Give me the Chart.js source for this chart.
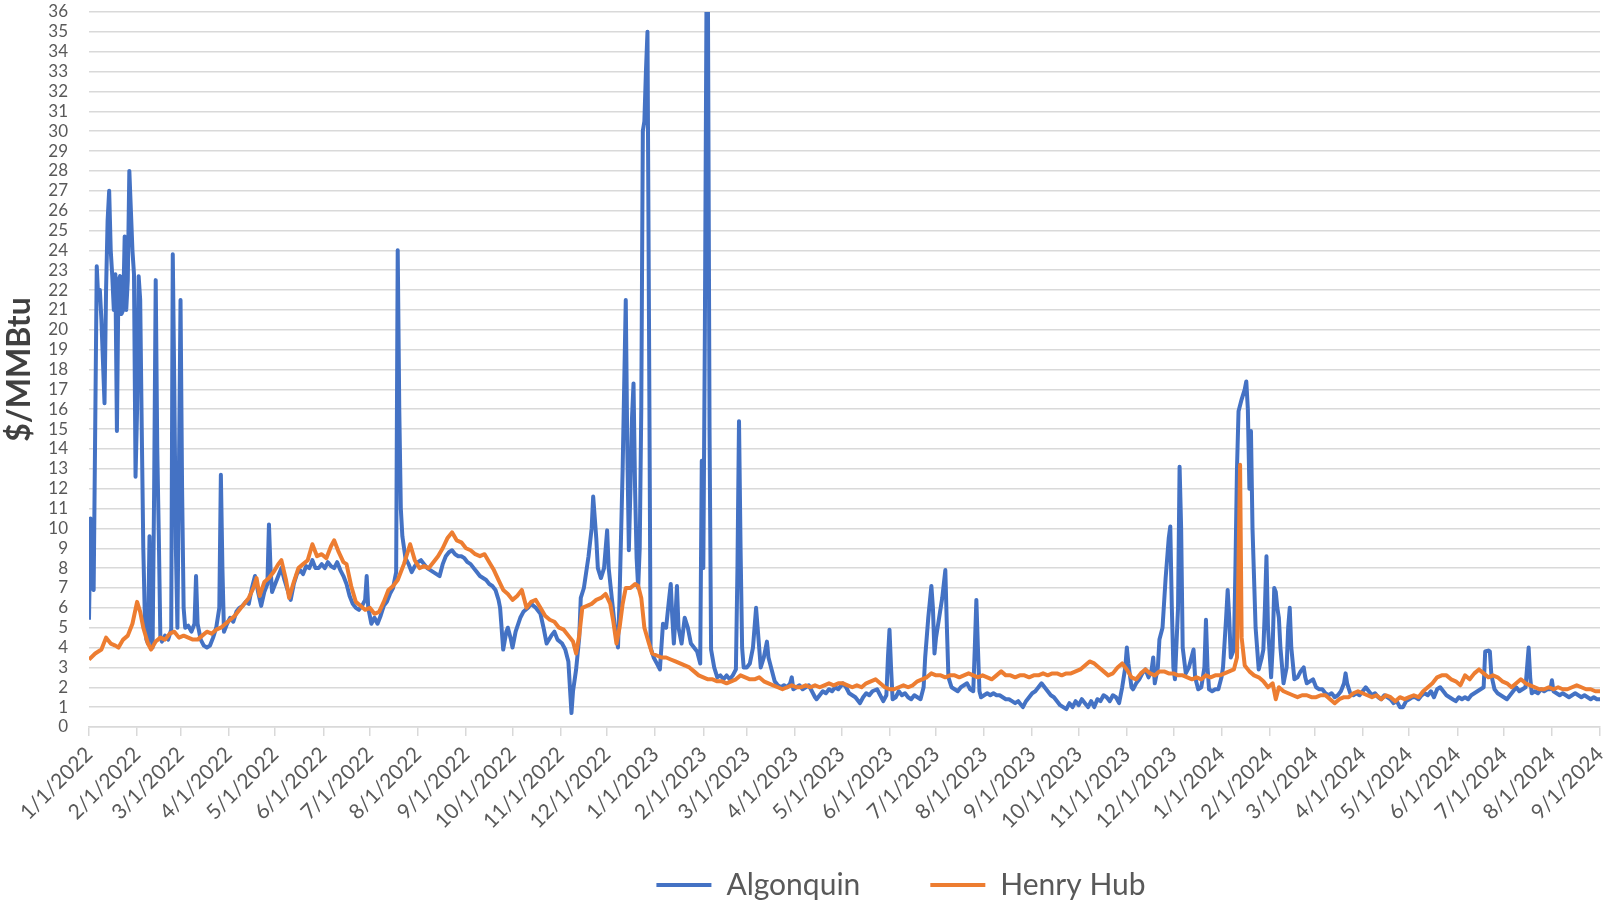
<!DOCTYPE html>
<html>
<head>
<meta charset="utf-8">
<script src="https://cdn.jsdelivr.net/npm/chart.js@4.4.1/dist/chart.umd.min.js"></script>
<style>
html,body{margin:0;padding:0;background:#ffffff;}
#wrap{width:1605px;height:904px;}
</style>
</head>
<body>
<div id="wrap"><canvas id="c" width="1605" height="904"></canvas></div>
<script>
// ---------- DATA ----------
const tickLabels = ['1/1/2022','2/1/2022','3/1/2022','4/1/2022','5/1/2022','6/1/2022','7/1/2022','8/1/2022','9/1/2022','10/1/2022','11/1/2022','12/1/2022',
  '1/1/2023','2/1/2023','3/1/2023','4/1/2023','5/1/2023','6/1/2023','7/1/2023','8/1/2023','9/1/2023','10/1/2023','11/1/2023','12/1/2023',
  '1/1/2024','2/1/2024','3/1/2024','4/1/2024','5/1/2024','6/1/2024','7/1/2024','8/1/2024','9/1/2024'];
const seriesNames = ['Algonquin', 'Henry Hub'];
const yAxisTitle = '$/MMBtu';

// days since 1/1/2022
const algonquinDays = [
  0,1,2,3,5,6,7,8,10,11,
  12,13,14,15,16,17,18,19,20,21,
  22,23,24,25,26,27,28,29,30,31,
  32,33,34,35,36,37,38,39,40,41,
  42,43,44,45,46,47,49,51,53,54,
  55,56,57,58,59,60,61,62,64,66,
  68,69,70,72,74,76,78,80,82,84,
  85,86,87,89,91,93,95,97,99,101,
  103,105,107,109,111,113,115,116,117,118,
  120,122,124,126,128,130,132,134,136,138,
  140,142,144,146,148,150,152,154,156,158,
  160,162,164,166,168,170,172,174,176,178,
  179,180,182,184,186,188,190,192,194,196,
  198,199,200,201,202,204,206,208,210,212,
  214,216,218,220,222,224,226,228,230,232,
  234,236,238,240,242,244,246,248,250,252,
  254,256,258,260,262,264,265,267,269,270,
  272,273,275,278,280,283,285,288,291,293,
  295,298,300,302,305,307,309,310,311,312,
  314,316,317,319,322,324,325,327,328,330,
  332,334,335,337,339,341,342,344,346,347,
  348,349,350,351,352,353,354,355,356,357,
  358,359,360,361,362,364,366,368,370,372,
  374,375,376,377,378,379,380,382,384,386,
  388,390,392,394,395,396,397,398,399,400,
  401,403,405,407,409,411,413,415,417,418,
  419,420,421,422,424,426,428,430,431,433,
  435,437,438,440,442,444,446,448,450,452,
  453,454,456,458,460,462,464,466,468,469,
  471,473,475,477,479,481,483,486,488,490,
  492,494,496,497,499,501,503,505,508,510,
  512,514,515,516,517,518,520,522,524,526,
  528,530,532,534,536,538,539,541,543,544,
  545,546,548,550,552,553,554,556,558,560,
  562,564,566,568,570,571,572,573,574,575,
  577,579,581,583,585,587,589,591,593,595,
  597,599,602,604,606,608,610,612,614,616,
  618,620,622,624,626,628,630,632,634,636,
  638,640,642,644,646,648,650,652,654,656,
  658,660,662,664,666,668,669,670,672,673,
  675,677,679,681,683,685,686,687,689,690,
  692,694,696,697,698,699,700,702,703,704,
  705,707,709,711,712,713,715,717,719,720,
  721,722,724,726,728,730,731,733,734,735,
  736,738,739,740,741,743,745,746,747,748,
  749,750,752,754,756,757,758,759,760,762,
  763,764,765,766,767,768,770,772,773,774,
  775,777,779,781,783,784,785,787,789,791,
  793,795,797,799,801,803,805,807,809,810,
  811,813,815,817,819,821,823,825,827,829,
  831,833,835,837,839,841,843,845,847,849,
  851,853,855,857,859,861,863,865,867,869,
  871,873,875,877,879,881,883,885,887,889,
  891,893,895,897,899,900,902,903,904,906,
  908,910,912,914,916,918,920,922,924,926,
  927,928,929,930,932,934,936,938,940,942,
  943,944,946,948,950,952,954,956,958,960,
  962,964,966,968,970,972,974
];
const algonquinPrices = [
  5.4,10.5,7.0,6.9,23.2,21.5,22.0,20.5,16.3,22.0,
  25.5,27.0,24.0,22.7,21.0,22.8,14.9,22.5,22.7,20.8,
  21.0,24.7,21.0,22.5,28.0,26.0,24.0,22.8,12.6,16.0,
  22.7,21.5,15.0,9.0,5.5,4.4,4.2,9.6,4.8,4.0,
  12.0,22.5,14.0,9.6,4.5,4.3,4.6,4.4,4.9,23.8,
  17.0,9.0,5.0,13.0,21.5,12.0,6.0,5.0,5.1,4.8,
  5.2,7.6,5.2,4.4,4.1,4.0,4.1,4.5,5.0,6.0,
  12.7,8.0,4.8,5.2,5.5,5.3,5.8,6.0,6.1,6.3,
  6.2,7.0,7.6,6.8,6.1,6.8,7.2,10.2,8.0,6.8,
  7.2,7.6,8.0,7.4,6.9,6.4,7.2,7.7,7.9,7.7,
  8.1,8.0,8.4,8.0,8.0,8.2,8.0,8.3,8.1,8.0,
  8.3,7.9,7.6,7.2,6.6,6.2,6.0,5.9,6.1,6.4,
  7.6,6.0,5.2,5.5,5.2,5.6,6.1,6.3,6.7,7.0,
  7.8,24.0,16.0,11.0,9.6,8.5,8.2,7.8,8.1,8.3,
  8.4,8.2,8.0,7.9,7.8,7.7,7.6,8.2,8.6,8.8,
  8.9,8.7,8.6,8.6,8.5,8.3,8.2,8.0,7.8,7.6,
  7.5,7.4,7.2,7.1,6.9,6.4,6.0,3.9,4.8,5.0,
  4.4,4.0,4.8,5.5,5.8,6.0,6.2,6.0,5.7,5.0,
  4.2,4.6,4.8,4.4,4.2,3.9,3.3,2.0,0.7,1.8,
  2.9,4.5,6.5,7.0,8.6,10.0,11.6,9.5,8.0,7.5,
  8.0,9.9,8.0,6.5,5.0,4.0,6.5,13.0,21.5,14.0,
  8.9,12.0,15.5,17.3,12.0,8.5,7.0,9.0,16.0,30.0,
  30.5,33.0,35.0,20.0,4.0,3.5,3.2,2.9,5.2,5.0,
  6.5,7.2,5.5,4.2,5.5,7.1,5.0,4.2,5.5,5.0,
  4.2,4.0,3.8,3.2,13.4,8.0,20.0,36.0,36.0,15.0,
  3.9,3.0,2.5,2.6,2.4,2.6,2.4,2.6,2.9,8.0,
  15.4,9.0,4.0,3.0,3.0,3.2,4.0,6.0,5.0,3.0,
  3.5,4.3,3.5,2.9,2.3,2.1,2.0,2.1,2.0,2.2,
  2.5,1.9,2.0,2.1,1.9,2.0,2.1,1.8,1.5,1.4,
  1.6,1.8,1.7,1.9,1.8,2.0,1.9,2.2,2.0,1.7,
  1.6,1.5,1.3,1.2,1.5,1.7,1.6,1.8,1.9,1.6,
  1.3,1.6,3.5,4.9,3.0,1.4,1.5,1.8,1.6,1.7,
  1.5,1.4,1.6,1.5,1.4,2.0,3.5,5.5,7.1,6.0,
  3.7,4.5,5.5,6.5,7.9,5.0,2.5,2.0,1.9,1.8,
  2.0,2.1,2.2,1.9,1.8,4.0,6.4,4.0,1.8,1.5,
  1.6,1.7,1.6,1.7,1.6,1.6,1.5,1.4,1.4,1.3,
  1.2,1.3,1.0,1.3,1.5,1.7,1.8,2.0,2.2,2.0,
  1.8,1.6,1.5,1.3,1.1,1.0,0.9,1.2,1.0,1.3,
  1.1,1.4,1.2,1.0,1.3,1.0,1.4,1.3,1.6,1.5,
  1.3,1.6,1.5,1.2,2.0,3.0,4.0,3.2,2.0,1.9,
  2.2,2.4,2.7,2.9,2.5,2.9,3.5,2.2,3.0,4.4,
  5.0,7.5,9.5,10.1,6.0,3.0,2.4,6.0,13.1,10.0,
  4.0,2.7,3.0,3.6,3.9,2.5,1.9,2.0,3.0,5.4,
  3.0,1.9,1.8,1.9,1.9,2.5,3.0,5.5,6.9,5.5,
  3.5,3.9,8.0,13.0,15.9,16.5,17.0,17.4,16.0,12.0,
  14.9,10.0,5.0,2.9,3.5,3.9,6.0,8.6,5.0,2.5,
  4.0,7.0,6.8,6.0,5.5,4.0,2.2,3.0,5.0,6.0,
  4.0,2.4,2.5,2.8,3.0,2.5,2.2,2.3,2.4,2.0,
  1.9,1.9,1.7,1.6,1.7,1.5,1.6,1.8,2.2,2.7,
  2.2,1.7,1.6,1.7,1.6,1.8,2.0,1.8,1.6,1.7,
  1.5,1.4,1.6,1.5,1.4,1.2,1.3,1.0,1.0,1.3,
  1.4,1.5,1.5,1.4,1.6,1.7,1.6,1.8,1.5,1.9,
  2.0,1.8,1.6,1.5,1.4,1.3,1.5,1.4,1.5,1.4,
  1.6,1.7,1.8,1.9,2.0,3.8,3.85,3.8,2.6,1.9,
  1.7,1.6,1.5,1.4,1.6,1.8,2.0,1.8,1.9,2.0,
  3.0,4.0,2.5,1.7,1.8,1.7,1.9,1.8,1.9,1.9,
  2.35,1.8,1.7,1.6,1.7,1.6,1.5,1.6,1.7,1.6,
  1.5,1.6,1.5,1.4,1.5,1.4,1.4
];

const henryHubDays = [
  0,4,8,11,14,17,19,22,25,28,
  31,33,35,38,40,43,46,49,52,55,
  58,61,64,67,70,73,76,79,82,85,
  88,91,94,97,100,103,106,108,110,113,
  116,119,122,124,127,129,132,135,138,141,
  144,147,150,153,156,158,161,164,166,169,
  172,175,178,181,184,187,190,193,196,199,
  203,207,210,213,216,219,222,225,228,231,
  234,237,240,243,246,249,252,255,258,261,
  264,267,270,273,276,279,282,285,288,291,
  294,297,300,303,306,309,312,314,316,318,
  321,324,327,330,333,336,338,340,342,344,
  346,349,352,354,356,358,361,363,366,369,
  372,375,378,381,384,387,390,393,396,399,
  402,405,408,411,414,417,420,423,426,429,
  432,435,438,441,444,447,450,453,456,459,
  462,465,468,471,474,477,480,483,486,489,
  492,495,498,501,504,507,510,513,516,519,
  522,525,528,531,534,537,540,543,546,549,
  552,555,558,561,564,567,570,573,576,579,
  582,585,588,591,594,597,600,603,606,609,
  612,615,618,621,624,627,630,633,636,639,
  642,645,648,651,654,657,660,663,666,669,
  672,675,678,681,684,687,690,693,696,699,
  702,705,708,711,714,717,720,723,726,729,
  732,735,738,740,742,743,745,748,751,754,
  757,760,763,765,767,770,773,776,779,782,
  785,788,791,794,797,800,803,806,809,812,
  815,818,821,824,827,830,833,836,839,842,
  845,848,851,854,857,860,863,866,869,872,
  875,878,881,884,887,890,893,896,899,902,
  905,908,911,914,917,920,923,926,929,932,
  935,938,941,944,947,950,953,956,959,962,
  965,968,971,974
];
const henryHubPrices = [
  3.4,3.7,3.9,4.5,4.2,4.1,4.0,4.4,4.6,5.2,
  6.3,5.8,5.0,4.2,3.9,4.3,4.5,4.4,4.7,4.8,
  4.5,4.6,4.5,4.4,4.4,4.6,4.8,4.7,4.9,5.0,
  5.2,5.4,5.6,5.9,6.2,6.5,7.0,7.5,6.6,7.3,
  7.5,7.8,8.2,8.4,7.4,6.5,7.3,8.0,8.2,8.4,
  9.2,8.6,8.7,8.5,9.1,9.4,8.8,8.3,8.2,7.1,
  6.3,6.1,5.9,6.0,5.7,5.8,6.3,6.9,7.1,7.4,
  8.2,9.2,8.4,8.0,8.1,8.0,8.3,8.6,9.0,9.5,
  9.8,9.4,9.3,9.0,8.9,8.7,8.6,8.7,8.3,7.9,
  7.4,6.9,6.7,6.4,6.6,6.9,6.0,6.3,6.4,6.0,
  5.6,5.4,5.3,5.0,4.9,4.6,4.3,3.7,4.6,6.0,
  6.1,6.2,6.4,6.5,6.7,6.2,5.3,4.2,5.0,6.2,
  7.0,7.0,7.2,7.1,6.5,5.0,4.2,3.7,3.6,3.5,
  3.5,3.4,3.3,3.2,3.1,3.0,2.8,2.6,2.5,2.4,
  2.4,2.3,2.3,2.2,2.3,2.4,2.6,2.5,2.4,2.4,
  2.5,2.3,2.2,2.1,2.0,1.9,2.0,2.1,2.0,2.0,
  2.1,2.0,2.1,2.0,2.1,2.2,2.1,2.2,2.2,2.1,
  2.0,2.1,2.0,2.2,2.3,2.4,2.2,2.0,1.9,1.9,
  2.0,2.1,2.0,2.1,2.3,2.4,2.5,2.7,2.6,2.6,
  2.5,2.6,2.6,2.5,2.6,2.7,2.6,2.5,2.6,2.5,
  2.4,2.6,2.8,2.6,2.6,2.5,2.6,2.6,2.5,2.6,
  2.6,2.7,2.6,2.7,2.7,2.6,2.7,2.7,2.8,2.9,
  3.1,3.3,3.2,3.0,2.8,2.6,2.7,3.0,3.2,2.9,
  2.5,2.4,2.7,2.9,2.7,2.6,2.8,2.8,2.7,2.7,
  2.6,2.6,2.5,2.4,2.5,2.4,2.6,2.5,2.6,2.6,
  2.7,2.8,2.9,3.5,13.2,4.5,3.1,2.8,2.6,2.5,
  2.3,2.0,2.2,1.4,2.0,1.8,1.7,1.6,1.5,1.6,
  1.6,1.5,1.5,1.6,1.6,1.4,1.2,1.4,1.5,1.5,
  1.7,1.8,1.7,1.6,1.5,1.6,1.4,1.6,1.5,1.3,
  1.5,1.4,1.5,1.6,1.5,1.8,2.0,2.2,2.5,2.6,
  2.6,2.4,2.3,2.1,2.6,2.4,2.7,2.9,2.7,2.5,
  2.6,2.5,2.3,2.2,2.0,2.2,2.4,2.2,2.1,2.0,
  1.9,1.9,2.0,1.9,2.0,1.9,1.9,2.0,2.1,2.0,
  1.9,1.9,1.8,1.8
];

// ---------- BUILD ----------
const startUTC = Date.UTC(2022, 0, 1);
function dayIndex(label) {
  const p = label.split('/').map(Number);
  return Math.round((Date.UTC(p[2], p[0] - 1, p[1]) - startUTC) / 86400000);
}
const tickDays = tickLabels.map(dayIndex);
function toPoints(days, vals) {
  const n = Math.min(days.length, vals.length);
  const out = [];
  for (let i = 0; i < n; i++) out.push({ x: days[i], y: vals[i] });
  return out;
}

const FONT = 'Lato, "Open Sans", sans-serif';
const LEGEND_SHIFT_X = 101;
const LEGEND_SHIFT_Y = 6;

function build() {
  const ctx = document.getElementById('c').getContext('2d');
  new Chart(ctx, {
    type: 'line',
    data: {
      datasets: [
        { label: seriesNames[0], data: toPoints(algonquinDays, algonquinPrices),
          borderColor: '#4472C4', backgroundColor: '#4472C4', borderWidth: 4,
          pointRadius: 0, pointHoverRadius: 0, tension: 0, order: 1, borderJoinStyle: 'round' },
        { label: seriesNames[1], data: toPoints(henryHubDays, henryHubPrices),
          borderColor: '#ED7D31', backgroundColor: '#ED7D31', borderWidth: 4,
          pointRadius: 0, pointHoverRadius: 0, tension: 0, order: 0, borderJoinStyle: 'round' }
      ]
    },
    options: {
      responsive: false,
      animation: false,
      devicePixelRatio: 1,
      layout: { padding: { left: 0, right: 5, top: 12, bottom: 0 }, autoPadding: false },
      scales: {
        x: {
          type: 'linear',
          min: tickDays[0],
          max: tickDays[tickDays.length - 1],
          afterBuildTicks: (s) => { s.ticks = tickDays.map(v => ({ value: v })); },
          afterFit: (s) => { s.height = 67; s.paddingLeft = 0; s.paddingRight = 0; s.paddingTop = 0; s.paddingBottom = 0; },
          ticks: {
            autoSkip: false, maxRotation: 45, minRotation: 45, padding: 6,
            color: '#595959', font: { family: FONT, size: 21 },
            callback: (v, i) => tickLabels[i]
          },
          grid: { drawOnChartArea: false, drawTicks: true, tickLength: 9, color: '#d9d9d9', lineWidth: 1.5 },
          border: { display: true, color: '#d9d9d9', width: 1.5 }
        },
        y: {
          min: 0, max: 36,
          afterFit: (s) => { s.width = 89; s.paddingLeft = 0; s.paddingRight = 0; s.paddingTop = 0; s.paddingBottom = 0; },
          ticks: { stepSize: 1, autoSkip: false, padding: 21, color: '#595959', font: { family: FONT, size: 17 } },
          grid: { color: '#d9d9d9', lineWidth: 1.5, drawTicks: false },
          border: { display: false },
          title: { display: true, text: yAxisTitle, color: '#404040', padding: 0,
                   font: { family: FONT, size: 32, weight: 'bold' } }
        }
      },
      plugins: {
        legend: {
          position: 'bottom',
          labels: {
            usePointStyle: true, pointStyle: 'line', pointStyleWidth: 55,
            color: '#595959', font: { family: FONT, size: 30 }, padding: 70,
            sort: (a, b) => a.datasetIndex - b.datasetIndex
          }
        },
        tooltip: { enabled: false }
      }
    },
    plugins: [{
      id: 'layoutTweaks',
      afterLayout(chart) {
        const L = chart.legend;
        if (L) {
          L.left += LEGEND_SHIFT_X; L.right += LEGEND_SHIFT_X;
          L.top += LEGEND_SHIFT_Y; L.bottom += LEGEND_SHIFT_Y;
        }
        // let the rotated month labels extend below the axis box without clipping
        const xs = chart.scales.x;
        if (xs) { xs.bottom = chart.height; xs.height = xs.bottom - xs.top; }
      }
    }]
  });
}

if (document.fonts && document.fonts.load) {
  Promise.all([
    document.fonts.load('18px Lato'),
    document.fonts.load('bold 30px Lato')
  ]).then(build, build);
} else {
  build();
}
</script>
</body>
</html>
